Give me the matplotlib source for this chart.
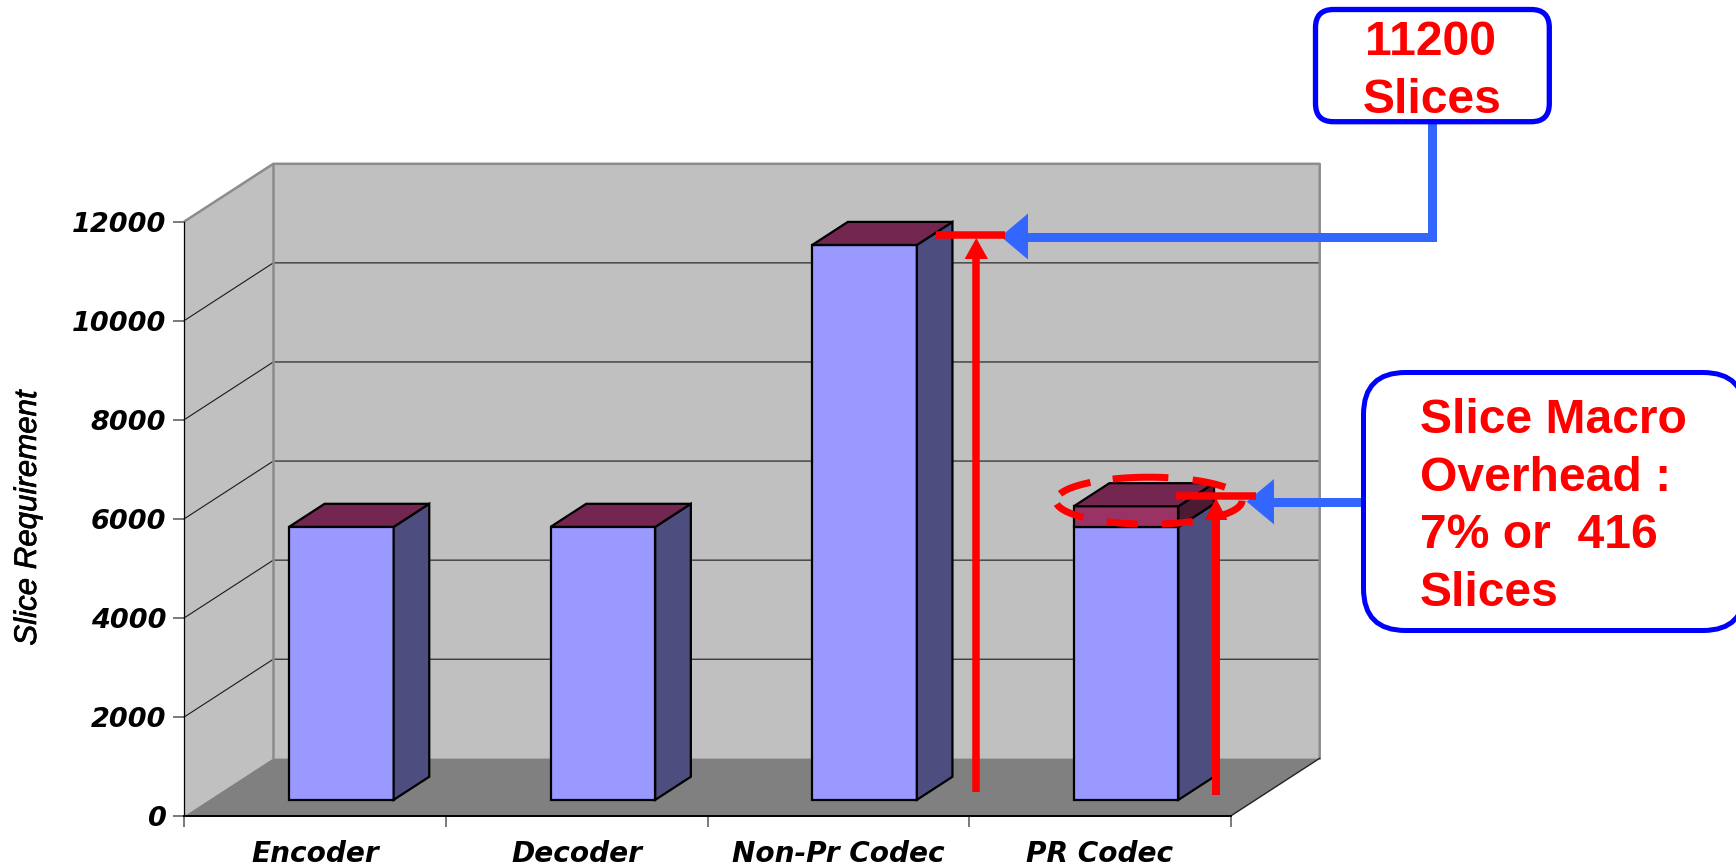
"""
slice_requirement.py -- pseudo-3D column chart of slice usage per codec build,
with the callouts for the full codec and the slice macro overhead.
"""
import numpy as np
import matplotlib
matplotlib.use("Agg")
import matplotlib.pyplot as plt
import matplotlib.patheffects as pe
from matplotlib.patches import FancyBboxPatch, Polygon

categories = ["Encoder", "Decoder", "Non-Pr Codec", "PR Codec"]
slices = [5510, 5510, 11200, 5510]
overhead = [0, 0, 0, 416]
y_ticks = [0, 2000, 4000, 6000, 8000, 10000, 12000]

WALL = "#C0C0C0"
FLOOR = "#808080"
BLUE_FRONT, BLUE_SIDE = "#9999FF", "#4D4D80"
PLUM_FRONT, PLUM_TOP, PLUM_SIDE = "#993366", "#732650", "#4D1A33"
ARROW_BLUE = "#3366FF"
RED = "#FF0000"

W, H = 1736, 865
fig = plt.figure(figsize=(W / 100, H / 100), dpi=100, facecolor="white")

# chart axes: x in category units, y in slices
x0, x1, y0, y1 = 184.3, 1230.7, 816.0, 221.5
ax = fig.add_axes([x0 / W, (H - y0) / H, (x1 - x0) / W, (y0 - y1) / H])
ax.set_xlim(0, 4)
ax.set_ylim(0, 12000)
ax.patch.set_alpha(0)

# one full unit of depth, in data units
DX = 89.0 / ((x1 - x0) / 4)
DY = 57.7 / ((y0 - y1) / 12000)


def proj(x, y, d):
    return (x + d * DX, y + d * DY)


def face(points, color, edge="none", lw=0.0, z=1):
    ax.add_patch(Polygon(points, closed=True, facecolor=color, edgecolor=edge, linewidth=lw,
                         joinstyle="miter", clip_on=False, zorder=z))


# walls and floor
face([proj(0, 0, 0), proj(0, 12000, 0), proj(0, 12000, 1), proj(0, 0, 1)], WALL)
face([proj(0, 0, 1), proj(0, 12000, 1), proj(4, 12000, 1), proj(4, 0, 1)], WALL)
face([proj(0, 0, 0), proj(4, 0, 0), proj(4, 0, 1), proj(0, 0, 1)], FLOOR)

for t in y_ticks[1:-1]:
    xs, ys = zip(proj(0, t, 0), proj(0, t, 1), proj(4, t, 1))
    ax.plot(xs, ys, color="#1A1A1A", lw=0.8, clip_on=False, zorder=2)

# wall outline
xs, ys = zip(proj(0, 12000, 0), proj(0, 12000, 1), proj(4, 12000, 1), proj(4, 0, 1))
ax.plot(xs, ys, color="#8C8C8C", lw=1.8, clip_on=False, zorder=2)
xs, ys = zip(proj(0, 12000, 1), proj(0, 0, 1))
ax.plot(xs, ys, color="#8C8C8C", lw=1.8, clip_on=False, zorder=2)
xs, ys = zip(proj(4, 0, 0), proj(4, 0, 1))
ax.plot(xs, ys, color="#222222", lw=1.0, clip_on=False, zorder=2)

# columns
BAR_W = 0.40
D0, D1 = 0.28, 0.68
EDGE = 1.6


def column(i, base, height, front, top, side):
    a = i + 0.5 - BAR_W / 2 + D0 * DX + 0.005
    b = a + BAR_W
    lo, hi = base, base + height
    pa, pb = a + (D1 - D0) * DX, b + (D1 - D0) * DX
    face([(a, lo + D0 * DY), (b, lo + D0 * DY), (b, hi + D0 * DY), (a, hi + D0 * DY)],
         front, "black", EDGE, 3)
    face([(b, lo + D0 * DY), (pb, lo + D1 * DY), (pb, hi + D1 * DY), (b, hi + D0 * DY)],
         side, "black", EDGE, 3)
    face([(a, hi + D0 * DY), (b, hi + D0 * DY), (pb, hi + D1 * DY), (pa, hi + D1 * DY)],
         top, "black", EDGE, 3)


for i, (v, o) in enumerate(zip(slices, overhead)):
    column(i, 0, v, BLUE_FRONT, PLUM_TOP, BLUE_SIDE)
    if o:
        column(i, v, o, PLUM_FRONT, PLUM_TOP, PLUM_SIDE)

# axes furniture
for s in ("top", "right"):
    ax.spines[s].set_visible(False)
ax.spines["left"].set_linewidth(0.9)
ax.spines["bottom"].set_linewidth(1.4)
ax.set_yticks(y_ticks)
ax.set_xticks(range(5))
ax.set_xticklabels([])
ax.set_xticks([i + 0.5 for i in range(4)], minor=True)
ax.set_xticklabels(categories, minor=True)
ax.tick_params(axis="both", which="major", length=8, width=1.1, color="#555555")
ax.tick_params(axis="x", which="minor", length=0, pad=17)
ax.tick_params(axis="y", which="major", pad=5)
for lab in ax.get_yticklabels():
    lab.set(fontfamily="DejaVu Sans", fontweight="bold", fontstyle="italic", fontsize=19.5)
for lab in ax.get_xticklabels(minor=True):
    lab.set(fontfamily="DejaVu Sans", fontweight="bold", fontstyle="italic", fontsize=20.2)

fig.text(28 / W, 1 - 518 / H, "Slice Requirement", rotation=90, ha="center", va="center",
         family="Liberation Sans", style="italic", fontsize=22.5,
         path_effects=[pe.withStroke(linewidth=0.5, foreground="black")])

# callout layer, laid out in pixels
ov = fig.add_axes([0, 0, 1, 1])
ov.set_xlim(0, W)
ov.set_ylim(H, 0)
ov.axis("off")
PX = 0.72


def seg(xs, ys, color, width):
    ov.plot(xs, ys, color=color, lw=width * PX, solid_capstyle="butt", solid_joinstyle="miter")


def head(tip, base, half, color, horizontal):
    if horizontal:
        pts = [(tip[0], tip[1]), (base, tip[1] - half), (base, tip[1] + half)]
    else:
        pts = [(tip[0], tip[1]), (tip[0] - half, base), (tip[0] + half, base)]
    ov.add_patch(Polygon(pts, closed=True, facecolor=color, edgecolor="none"))


def label(x, y, text, ha="left"):
    ov.text(x, y, text, color=RED, family="Liberation Sans", weight="bold", fontsize=34.6,
            ha=ha, va="baseline", zorder=5)


# full codec markers
seg([936, 1005], [235, 235], RED, 7.5)
seg([976.3, 976.3], [792, 250], RED, 7.5)
head((976.3, 238), 259, 11.7, RED, False)
seg([1432, 1432, 1025], [122, 236.5, 236.5], ARROW_BLUE, 9)
head((1000.7, 236.5), 1028, 23, ARROW_BLUE, True)

# dashed ring round the overhead block, each dash a stretch of the ellipse
ring_dashes = [(0, 48), (62, 82), (97, 117), (135, 172), (197, 231), (247, 282), (298, 325)]
for a, b in ring_dashes:
    tt = np.radians(np.linspace(a, b, 30))
    seg(1149 + 93 * np.cos(tt), 500.7 + 23.5 * np.sin(tt), RED, 7)

# overhead markers
seg([1175.7, 1256], [495.7, 495.7], RED, 7.5)
seg([1216, 1216], [795, 512], RED, 8)
head((1216, 498), 520, 11.3, RED, False)
seg([1364, 1272], [501.7, 501.7], ARROW_BLUE, 9)
head((1246.7, 501.7), 1274, 22.7, ARROW_BLUE, True)

# callout boxes
ov.add_patch(FancyBboxPatch((1315.5 + 18, 9.5 + 18), 233.8 - 36, 112.2 - 36,
                            boxstyle="round,pad=18,rounding_size=18", facecolor="white",
                            edgecolor="#0000FF", lw=5.3 * PX, zorder=4))
label(1430, 55, "11200", ha="center")
label(1432, 113, "Slices", ha="center")

ov.add_patch(FancyBboxPatch((1363.5 + 42, 372.5 + 42), 381.5 - 84, 258 - 84,
                            boxstyle="round,pad=42,rounding_size=42", facecolor="white",
                            edgecolor="#0000FF", lw=5 * PX, zorder=4))
for t, yy in zip(["Slice Macro", "Overhead :", "7% or  416", "Slices"], [433, 491, 548, 606]):
    label(1420, yy, t)

fig.savefig("out.png", dpi=100)
plt.close()
